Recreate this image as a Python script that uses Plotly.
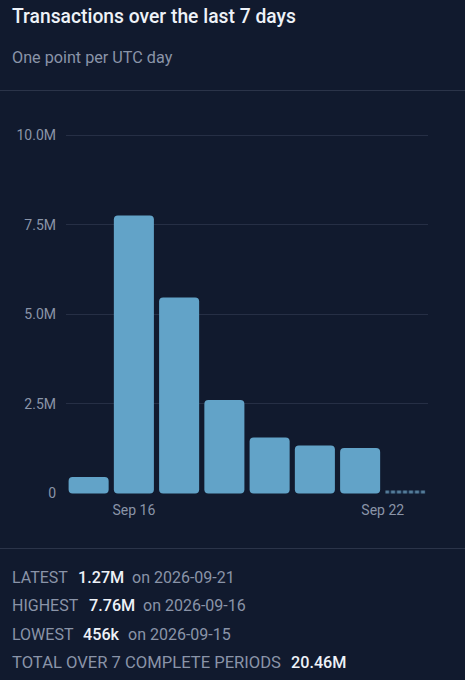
import plotly.graph_objects as go

dates = ["2026-09-15", "2026-09-16", "2026-09-17", "2026-09-18", "2026-09-19", "2026-09-20", "2026-09-21"]
values = [456000, 7760000, 5470000, 2610000, 1560000, 1340000, 1270000]
partial_date = ["2026-09-22"]
partial_value = [80000]
y_ticks = [0, 2500000, 5000000, 7500000, 10000000]
y_tick_labels = ["0", "2.5M", "5.0M", "7.5M", "10.0M"]
x_ticks = ["2026-09-16", "2026-09-21 12:00"]
x_tick_labels = ["Sep 16", "Sep 22"]
title = "Transactions over the last 7 days"
subtitle = "One point per UTC day"
stat_labels = ["LATEST", "HIGHEST", "LOWEST", "TOTAL OVER 7 COMPLETE PERIODS"]
stat_values = ["1.27M", "7.76M", "456k", "20.46M"]
stat_dates = ["on 2026-09-21", "on 2026-09-16", "on 2026-09-15", ""]

W, H = 465, 680
ML, MR, MT, MB = 66, 37, 134, 186
PW, PH = W - ML - MR, H - MT - MB
BG, BAR, GRID, DIM, BRIGHT = "#111a2e", "#62a3c8", "#262f45", "#8a94a8", "#eef2f8"
FONT = "Roboto"
DAY_MS = 86400000
BAR_WIDTH = DAY_MS * 0.885
px = lambda x: (x - ML) / PW
py = lambda y: (H - MB - y) / PH

fig = go.Figure()
fig.add_bar(x=dates, y=values, base=[0] * len(values), width=BAR_WIDTH, showlegend=False, hoverinfo="skip",
            marker=dict(color=BAR, cornerradius=4, line_width=0))
fig.add_bar(x=partial_date, y=partial_value, width=BAR_WIDTH, showlegend=False, hoverinfo="skip",
            marker=dict(color="#1d3450", line_width=0,
                        pattern=dict(shape="|", fgcolor="#8cc3e2", bgcolor="#1d3450", size=6, solidity=0.6)))

fig.update_layout(
    width=W, height=H, autosize=False, paper_bgcolor=BG, plot_bgcolor=BG,
    margin=dict(l=ML, r=MR, t=MT, b=MB), barmode="overlay",
    font=dict(family=FONT, color=DIM, size=13.5),
    xaxis=dict(type="date", range=["2026-09-14 12:00", "2026-09-22 12:00"], tickmode="array", tickvals=x_ticks,
               ticktext=x_tick_labels, showgrid=False, zeroline=False, showline=False, ticks="", ticklen=0,
               tickfont=dict(size=14, color=DIM), ticklabelstandoff=6),
    yaxis=dict(range=[-16800, 10039000], tickmode="array", tickvals=y_ticks, ticktext=y_tick_labels, gridcolor=GRID,
               gridwidth=1, zeroline=False, showline=False, ticks="", tickfont=dict(size=14, color=DIM),
               ticklabelstandoff=9),
)
for y in (90.5, 548.5):
    fig.add_shape(type="line", xref="paper", yref="paper", x0=px(0), x1=px(W), y0=py(y), y1=py(y),
                  line=dict(color="#2b3449", width=1))


def note(x, y, text, size, color, weight="normal"):
    fig.add_annotation(xref="paper", yref="paper", x=px(x), y=py(y), text=text, showarrow=False, xanchor="left",
                       yanchor="middle", font=dict(family=FONT, size=size, color=color, weight=weight),
                       borderpad=0, borderwidth=0, align="left")


note(12, 16, title, 19.3, BRIGHT, 500)
note(12, 57, subtitle, 16.2, DIM)
rows = [577, 605, 634, 662]
value_x = [78, 89, 83, 291]
date_x = [132, 143, 128, 0]
label_sizes = [16, 16, 16, 16.6]
for i, y in enumerate(rows):
    note(12, y, stat_labels[i], label_sizes[i], DIM)
    note(value_x[i], y, stat_values[i], 16.2, BRIGHT, 500)
    if stat_dates[i]:
        note(date_x[i], y, stat_dates[i], 16, DIM)

fig.write_html("out.html", config={"displayModeBar": False},
               post_script="document.body.style.margin=0;document.body.style.background='#111a2e';document.body.style.overflow='hidden';")
